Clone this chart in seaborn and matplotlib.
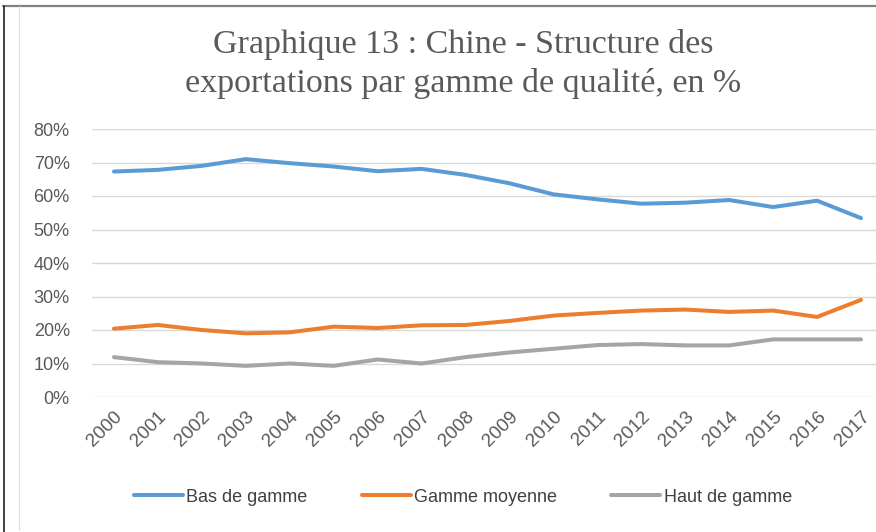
import pandas as pd
import numpy as np
import seaborn as sns
import matplotlib.pyplot as plt
from matplotlib.lines import Line2D
from matplotlib.ticker import PercentFormatter

# Données (en %)
annees = list(range(2000, 2018))
bas_de_gamme = [67.3, 67.8, 69.0, 71.0, 69.8, 68.8, 67.4, 68.1, 66.3, 63.8,
                60.5, 59.0, 57.7, 58.0, 58.8, 56.7, 58.6, 53.4]
gamme_moyenne = [20.4, 21.5, 20.0, 19.0, 19.3, 21.0, 20.6, 21.4, 21.5, 22.7,
                 24.3, 25.1, 25.8, 26.1, 25.4, 25.8, 23.9, 29.0]
haut_de_gamme = [11.9, 10.4, 10.0, 9.3, 10.0, 9.3, 11.2, 10.0, 11.9, 13.3,
                 14.4, 15.5, 15.8, 15.4, 15.4, 17.2, 17.2, 17.2]
series = ['Bas de gamme', 'Gamme moyenne', 'Haut de gamme']
couleurs = {'Bas de gamme': '#5B9BD5', 'Gamme moyenne': '#ED7D31', 'Haut de gamme': '#A5A5A5'}

df = pd.DataFrame({'Année': annees * 3,
                   'Valeur': bas_de_gamme + gamme_moyenne + haut_de_gamme,
                   'Série': np.repeat(series, len(annees))})

sns.set_style('white')
plt.rcParams['font.family'] = ['Liberation Sans', 'DejaVu Sans']

fig = plt.figure(figsize=(8.76, 5.32), dpi=100)
ax = fig.add_axes([92 / 876, 1 - 397 / 532, (883 - 92) / 876, (397 - 129) / 532])

sns.lineplot(data=df, x='Année', y='Valeur', hue='Série', palette=couleurs,
             linewidth=2.9, ax=ax, legend=False)

ax.set_xlim(annees[0] - 0.5, annees[-1] + 0.5)
ax.set_ylim(0, 80)
ax.set_yticks(range(0, 81, 10))
ax.yaxis.set_major_formatter(PercentFormatter(decimals=0))
ax.set_xticks(annees)
ax.set_xticklabels([str(a) for a in annees], rotation=45, ha='right',
                   rotation_mode='anchor')
ax.tick_params(axis='y', labelsize=13, colors='#595959', length=0, pad=16)
ax.tick_params(axis='x', labelsize=13.5, colors='#595959', length=0, pad=8)
ax.grid(axis='y', color='#D9D9D9', linewidth=1)
ax.set_axisbelow(True)
for s in ax.spines.values():
    s.set_visible(False)
ax.set_xlabel('')
ax.set_ylabel('')

# Titre
fig.text(463 / 876, 1 - 64 / 532,
         'Graphique 13 : Chine - Structure des\nexportations par gamme de qualité, en %',
         ha='center', va='center', fontsize=24.5, color='#5a5a5a',
         family=['Liberation Serif', 'DejaVu Serif'], linespacing=1.3)

# Légende
handles = [Line2D([], [], color=couleurs[s], linewidth=2.9) for s in series]
fig.legend(handles, series, loc='center', bbox_to_anchor=(463 / 876, 1 - 497 / 532),
           ncol=3, frameon=False, fontsize=13, handlelength=2.7, handletextpad=0.2,
           columnspacing=3.0, labelcolor='#404040')

# Cadre de la capture
fig.add_artist(Line2D([3 / 876, 1], [1 - 5.5 / 532] * 2, color='#808080', linewidth=1.6))
fig.add_artist(Line2D([3.5 / 876] * 2, [0, 1 - 5.5 / 532], color='#202020', linewidth=1.2))
fig.add_artist(Line2D([18.5 / 876] * 2, [2 / 532, 1 - 6 / 532], color='#E0E0E0', linewidth=0.8))

fig.savefig('out.png', dpi=100)
